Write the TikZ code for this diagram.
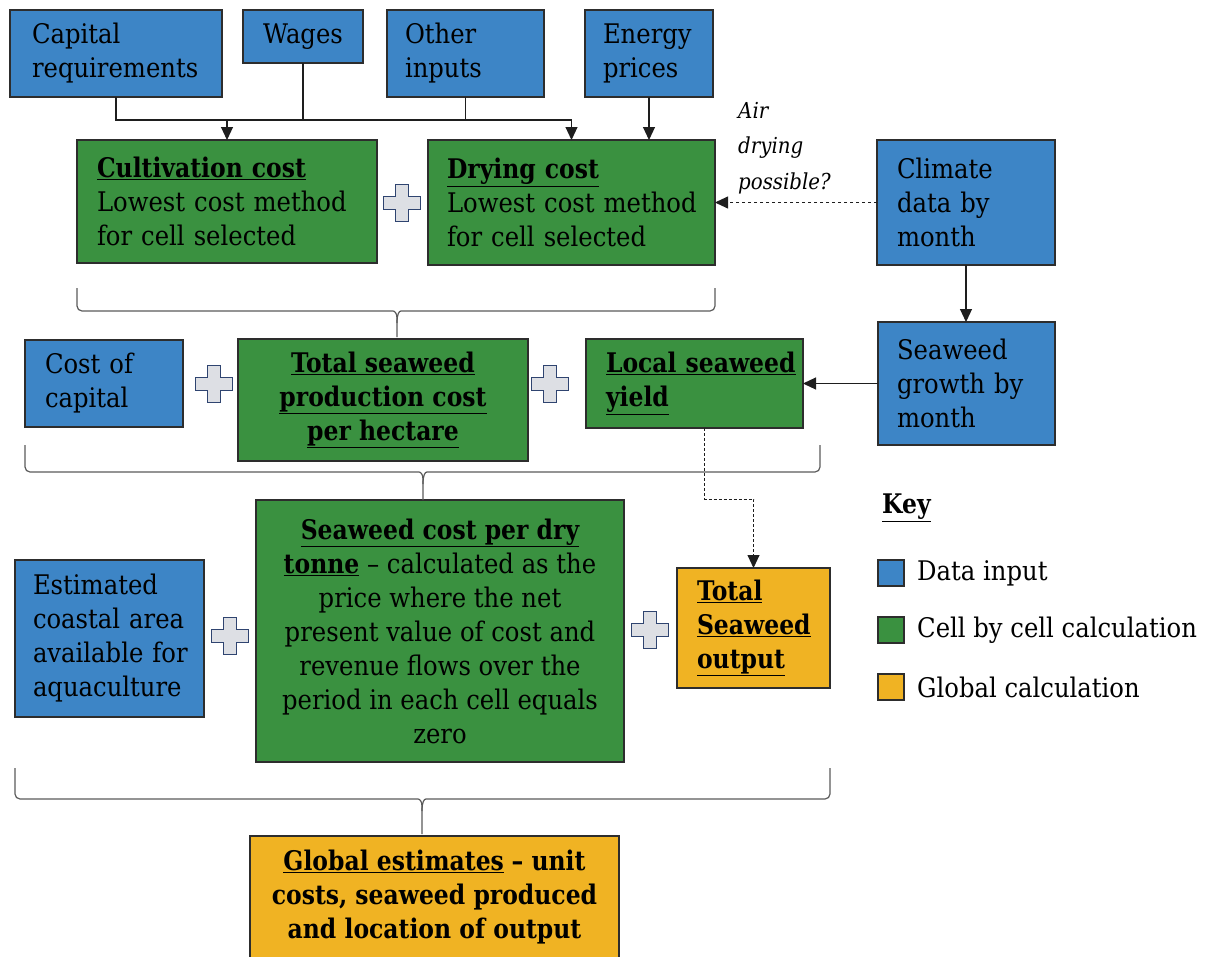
\documentclass[tikz,border=0pt]{standalone}
\usepackage{fontspec}
\setmainfont{DejaVu Serif}[FakeStretch=0.9, BoldFeatures={FakeStretch=0.87}, BoldItalicFeatures={FakeStretch=0.87}]
\usetikzlibrary{arrows.meta}
\definecolor{cblue}{RGB}{61,133,198}
\definecolor{cgreen}{RGB}{58,145,64}
\definecolor{cyellow}{RGB}{240,179,35}
\definecolor{cedge}{RGB}{45,45,45}
\definecolor{cline}{RGB}{30,30,30}
\definecolor{cbrace}{RGB}{90,90,90}
\definecolor{cplus}{RGB}{221,223,228}
\definecolor{cplusedge}{RGB}{47,68,112}
\newcommand\ubf[1]{\textbf{\underline{#1}}}
\newcommand\nb[1]{\mbox{#1}}
\newcommand\seabrace[6]{%
  \draw[bracestyle] (#1,#3) -- (#1,#4) -- (#5-9,#4) .. controls (#5-2,#4) and (#5,#4+3) .. (#5,#4+12) -- (#5,#6);
  \draw[bracestyle] (#2,#3) -- (#2,#4) -- (#5+9,#4) .. controls (#5+2,#4) and (#5,#4+3) .. (#5,#4+12);}
\begin{document}
\begin{tikzpicture}[x=1pt,y=-1pt,
  font=\fontsize{27}{34}\selectfont,
  box/.style={draw=cedge, line width=1.5pt, outer sep=0pt, inner ysep=0pt, anchor=north west, align=left},
  inbox/.style={box, fill=cblue},
  cellbox/.style={box, fill=cgreen},
  globbox/.style={box, fill=cyellow},
  conn/.style={draw=cline, line width=1.1pt},
  arr/.style={conn, -{Triangle[length=13pt,width=12pt]}},
  bracestyle/.style={draw=cbrace, line width=1.2pt, rounded corners=5pt},
  plussign/.pic={\draw[draw=cplusedge, fill=cplus, line width=1.6pt]
    (-6.5,-18.5) -- (6.5,-18.5) -- (6.5,-6.5) -- (18.5,-6.5) -- (18.5,6.5) -- (6.5,6.5)
    -- (6.5,18.5) -- (-6.5,18.5) -- (-6.5,6.5) -- (-18.5,6.5) -- (-18.5,-6.5) -- (-6.5,-6.5) -- cycle;},
  keysq/.style={draw=cedge, line width=1.5pt, minimum size=26pt, inner sep=0pt, outer sep=0pt},
  keytxt/.style={anchor=west, inner sep=0pt}
]
\useasboundingbox (0,0) rectangle (1221,956);

% top inputs
\node[inbox, minimum width=212pt, minimum height=87pt, inner xsep=22pt, text width=168pt] (cap) at (10,10) {Capital\\\nb{requirements}};
\node[inbox, minimum width=120pt, minimum height=53pt, inner xsep=0pt, align=center] (wag) at (243,10) {Wages};
\node[inbox, minimum width=157pt, minimum height=87pt, inner xsep=18pt, text width=121pt] (oth) at (387,10) {Other\\inputs};
\node[inbox, minimum width=128pt, minimum height=87pt, inner xsep=18pt, text width=92pt] (ene) at (585,10) {Energy\\prices};

% row 1
\node[cellbox, minimum width=300pt, minimum height=123pt, inner xsep=20pt, text width=260pt] (cul) at (77,140) {\ubf{Cultivation cost}\\\nb{Lowest cost method}\\\nb{for cell selected}};
\node[cellbox, minimum width=287pt, minimum height=125pt, inner xsep=19pt, text width=249pt] (dry) at (428,140) {\ubf{Drying cost}\\\nb{Lowest cost method}\\\nb{for cell selected}};
\node[inbox, minimum width=178pt, minimum height=125pt, inner xsep=20pt, text width=138pt] (cli) at (877,140) {Climate\\data by\\month};
\node[anchor=north west, inner sep=0pt, align=left, font=\fontsize{22}{35.5}\selectfont\itshape] (air) at (738,102) {Air\\drying\\possible?};

% row 2
\node[inbox, minimum width=158pt, minimum height=87pt, inner xsep=20pt, text width=118pt] (coc) at (25,340) {Cost of\\capital};
\node[cellbox, minimum width=290pt, minimum height=122pt, inner xsep=0pt, align=center] (tot) at (238,339) {\ubf{Total seaweed}\\\ubf{production cost}\\\ubf{per hectare}};
\node[cellbox, minimum width=217pt, minimum height=89pt, inner xsep=20pt, text width=177pt] (loc) at (586,339) {\ubf{Local seaweed}\\\ubf{yield}};
\node[inbox, minimum width=177pt, minimum height=123pt, inner xsep=19pt, text width=139pt] (grw) at (878,322) {Seaweed\\\nb{growth by}\\month};

% row 3
\node[inbox, minimum width=189pt, minimum height=157pt, inner xsep=18pt, text width=153pt] (est) at (15,560) {Estimated\\\nb{coastal area}\\\nb{available for}\\\nb{aquaculture}};
\node[cellbox, minimum width=368pt, minimum height=262pt, inner xsep=0pt, align=center] (spd) at (256,500) {\ubf{Seaweed cost per dry}\\\ubf{tonne} -- calculated as the\\price where the net\\present value of cost and\\revenue flows over the\\period in each cell equals\\zero};
\node[globbox, minimum width=153pt, minimum height=120pt, inner xsep=20pt, text width=113pt] (out) at (677,568) {\ubf{Total}\\\ubf{Seaweed}\\\ubf{output}};

% global
\node[globbox, minimum width=369pt, minimum height=122pt, inner xsep=0pt, align=center] (glo) at (250,836) {\ubf{Global estimates} \textbf{-- unit}\\\textbf{costs, seaweed produced}\\\textbf{and location of output}};

% plus signs
\pic at (402,203) {plussign};
\pic at (214,384) {plussign};
\pic at (550,384) {plussign};
\pic at (230,636) {plussign};
\pic at (650,630) {plussign};

% connectors
\coordinate (bus) at (0,120);
\draw[arr] (cap.south) |- (bus -| dry.north) -- (dry.north);
\draw[arr] (bus -| cul.north) -- (cul.north);
\draw[conn] (wag.south) -- (wag.south |- bus);
\draw[conn] (oth.south) -- (oth.south |- bus);
\draw[arr] (ene.south) -- (ene.south |- dry.north);
\draw[arr, dash pattern=on 3.5pt off 2.5pt, line width=0.9pt] (cli.west) -- (dry.east);
\draw[arr] (cli.south) -- (cli.south |- grw.north);
\draw[arr] (grw.west) -- (loc.east);
\draw[arr, dash pattern=on 3pt off 2pt, line width=0.9pt] ([xshift=10pt]loc.south) -- ++(0,71) -| (out.north);

% braces
\seabrace{77}{715}{288}{311}{397}{337}
\seabrace{25}{820}{445}{472}{423}{500}
\seabrace{15}{830}{768}{799}{422}{834}

% key
\node[anchor=west, inner sep=0pt] (key) at (882,508) {\ubf{Key}};
\node[keysq, fill=cblue] (k1) at (891,573) {};
\node[keysq, fill=cgreen] (k2) at (891,630) {};
\node[keysq, fill=cyellow] (k3) at (891,687) {};
\node[keytxt] (t1) at (917,573) {Data input};
\node[keytxt] (t2) at (917,630) {Cell by cell calculation};
\node[keytxt] (t3) at (917,687) {Global calculation};
\end{tikzpicture}
\end{document}
